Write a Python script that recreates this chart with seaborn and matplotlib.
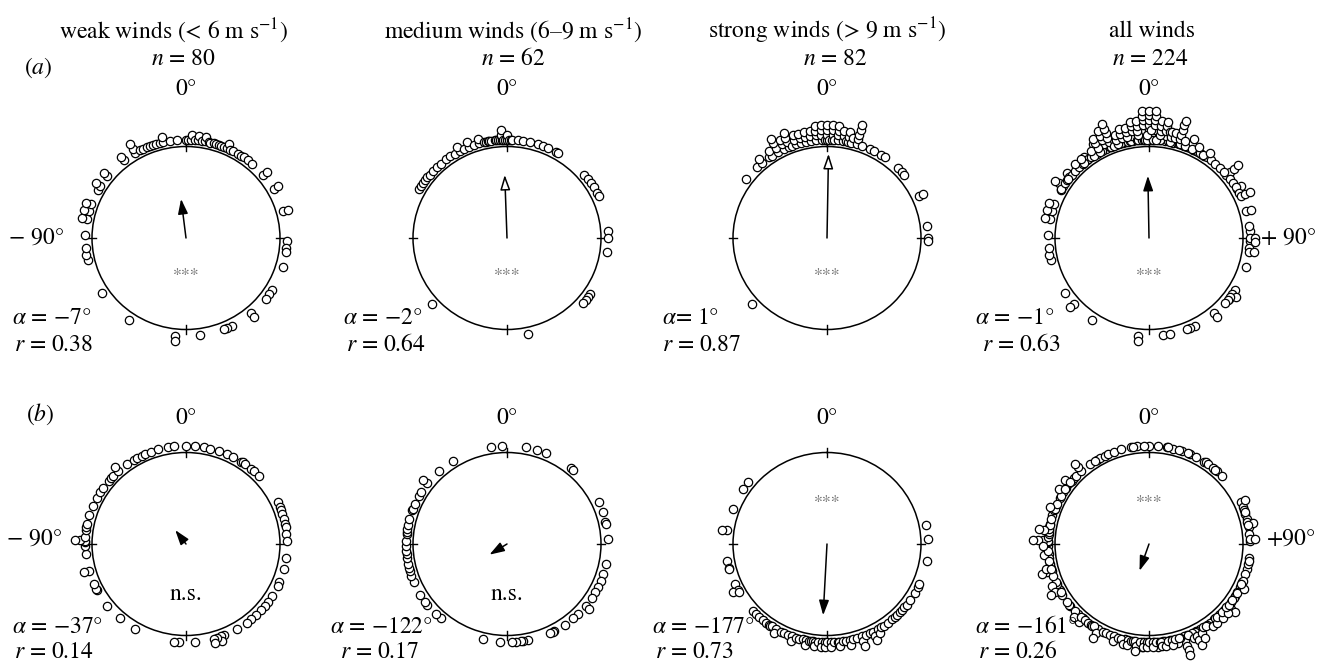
import numpy as np
import pandas as pd
import matplotlib
matplotlib.use("Agg")
import matplotlib.pyplot as plt
import seaborn as sns

# ---------------------------------------------------------------- data
titles = ["weak winds (< 6 m s$^{-1}$)", "medium winds (6–9 m s$^{-1}$)",
          "strong winds (> 9 m s$^{-1}$)", "all winds"]
sample_sizes = [80, 62, 82, 224]

# individual headings in degrees (clockwise from 0°), row (a)
a_weak = [-174, -174, -146, -124, -103, -100, -96, -88, -79, -79, -74, -74, -70, -70,
          -61, -58, -58, -51, -51, -38, -38, -30, -30, -30, -27, -25, -23, -21, -19,
          -17, -15, -13, -13, -9, -5, 0, 1, 3, 3, 5, 7, 7, 9, 11, 11, 13, 14, 16, 17,
          19, 20, 22, 24, 24, 26, 28, 31, 33, 35, 38, 41, 50, 50, 60, 60, 74, 74, 92,
          96, 98, 107, 122, 125, 128, 140, 140, 153, 156, 158, 172]
a_medium = [-132, -60, -58, -56, -54, -52, -50, -47, -44, -41,
            -37, -34, -31, -28, -28, -25, -22, -22, -19, -16, -16, -13, -12, -11, -10, -9,
            -7, -6, -5, -4, -3, -3, -3, -2, -1, 0, 0, 1, 2, 3,
            6, 9, 13, 18, 21, 24, 29, 30,
            50, 53, 56, 59, 63, 65, 86, 90, 98, 125, 127, 129, 131, 168]
a_strong = [-132, -53, -44, -40, -40, -35,
            -33, -33, -29, -29, -29, -29, -25, -25, -25, -22, -22, -22, -22, -20,
            -18, -18, -18, -15, -15, -15, -12, -12, -12, -9, -9, -9,
            -6, -6, -6, -6, -3, -3, -3, -3, -1, 0, 0, 0, 0, 1,
            3, 3, 3, 3, 4, 6, 6, 6, 6, 9, 9, 9, 11, 12, 12, 12, 14, 14,
            17, 17, 17, 17, 17, 20, 25, 28, 32, 35, 45, 48, 50, 65, 65, 83, 90, 92]

# row (b)
b_weak = [-176, -173, -150, -139, -129, -118, -117, -114, -106, -106,
          -96, -91, -89, -88, -88, -88, -86, -82, -80, -78,
          -73, -67, -62, -58, -55, -50, -48, -46, -42, -42,
          -36, -31, -29, -26, -24, -20, -16, -10, -7,
          0, 5, 10, 14, 19, 24, 28, 33, 34, 36, 40, 42, 46,
          65, 68, 70, 72, 75, 78, 80, 84, 88, 98, 105, 113, 115,
          122, 126, 129, 132, 136, 140, 143, 150, 158, 160, 160, 162, 164, 164, 175]
b_medium = [-176, -166, -139, -135, -128, -126, -121, -113, -109, -106,
            -104, -102, -98, -96, -94, -91, -88, -84, -83, -81,
            -79, -75, -70, -69, -66, -61, -58, -52, -52, -42,
            -32, -9, -3, 11, 17, 23, 39, 41, 65, 71,
            77, 78, 87, 102, 108, 112, 116, 119, 123, 129,
            129, 135, 139, 145, 152, 153, 155, 168, 171, 172, 175, 177]
b_strong = [-51, -56, -69, -82, -82, -100, -104, -105, -114, -118, -118, -119,
            -133, -135, -138, -141, -143, -145, -146, -147, -150, -150, -153, -155,
            -157, -160, -160, -162, -164, -166, -168, -168, -170, -171, -172, -173,
            -173, -175, -177, -177, -179, -179,
            180, 178, 178, 176, 174, 173, 173, 171, 169, 167, 167, 165, 163, 160,
            160, 160, 157, 155, 153, 153, 153, 150, 150, 148,
            146, 143, 140, 138, 136, 134, 132, 130, 128, 125,
            120, 116, 114, 100, 87, 79]

# mean vectors (direction alpha in degrees, length r) and Rayleigh results
a_alpha = [-7, -2, 1, -1]
a_r = [0.38, 0.64, 0.87, 0.63]
b_alpha = [-37, -122, -177, -161]
b_r = [0.14, 0.17, 0.73, 0.26]
a_sig = ["***", "***", "***", "***"]
b_sig = ["n.s.", "n.s.", "***", "***"]

a_sets = [a_weak, a_medium, a_strong, a_weak + a_medium + a_strong]
b_sets = [b_weak, b_medium, b_strong, b_weak + b_medium + b_strong]

# ---------------------------------------------------------------- style
plt.rcParams["font.family"] = ["STIXGeneral", "DejaVu Serif"]
plt.rcParams["mathtext.fontset"] = "stix"
FS = 17

W, H = 1318, 662
fig = plt.figure(figsize=(W / 100, H / 100), dpi=100)
fig.patch.set_facecolor("white")

col_cx = [186, 507, 827, 1149]
row_cy = [238, 544]
RX, RY = 94, 91.5
FIRST, STEP = 0.075, 0.053
HEAD_OVERSHOOT = 0.05   # arrow head reaches a little past the vector end


def fx(px):
    return px / W


def fy(py):
    return 1 - py / H


def panel(ax, angles, alpha, r, open_head, sig, sig_theta, sig_r, sig_kw):
    df = pd.DataFrame({"deg": angles})
    df["layer"] = df.groupby("deg").cumcount()
    df["theta"] = np.deg2rad(df["deg"])
    df["rad"] = 1.0 + FIRST + STEP * df["layer"]
    ax.set_theta_zero_location("N")
    ax.set_theta_direction(-1)
    sns.scatterplot(data=df, x="theta", y="rad", ax=ax, s=36, color="white",
                    edgecolor="black", linewidth=0.9, clip_on=False, zorder=3,
                    legend=False)
    ax.set_ylim(0, 1)
    ax.set_xlabel("")
    ax.set_ylabel("")
    ax.set_yticks([])
    ax.set_xticks([])
    ax.grid(False)
    ax.spines["polar"].set_linewidth(1.1)
    ax.set_aspect("auto")
    # short marks crossing the circle at the four cardinal directions
    for t in np.deg2rad([0, 90, 180, 270]):
        ax.plot([t, t], [0.955, 1.045], color="black", lw=1.0, clip_on=False,
                zorder=2)
    ax.annotate("", xy=(np.deg2rad(alpha), r + HEAD_OVERSHOOT), xytext=(0, 0),
                arrowprops=dict(arrowstyle="-|>,head_length=0.9,head_width=0.3",
                                fc="white" if open_head else "black", ec="black",
                                lw=1.1, shrinkA=0, shrinkB=0, mutation_scale=10))
    ax.text(sig_theta, sig_r, sig, ha="center", va="center", **sig_kw)


star_kw = dict(fontsize=13, color="#707070")
ns_kw = dict(fontsize=FS, color="black")

a_open = [False, True, True, False]
for i in range(4):
    for row in range(2):
        cx, cy = col_cx[i], row_cy[row]
        ax = fig.add_axes([fx(cx - RX), fy(cy + RY), 2 * RX / W, 2 * RY / H],
                          projection="polar")
        if row == 0:
            panel(ax, a_sets[i], a_alpha[i], a_r[i], a_open[i], a_sig[i],
                  np.pi, 0.42, star_kw)
        else:
            if b_sig[i] == "n.s.":
                panel(ax, b_sets[i], b_alpha[i], b_r[i], False, b_sig[i],
                      np.pi, 0.55, ns_kw)
            else:
                panel(ax, b_sets[i], b_alpha[i], b_r[i], False, b_sig[i],
                      0, 0.45, star_kw)

# ---------------------------------------------------------------- labels
title_x = [174, 513, 827, 1152]
n_x = [183, 513, 835, 1150]
for i in range(4):
    fig.text(fx(title_x[i]), fy(31), titles[i], ha="center", va="center", fontsize=FS)
    fig.text(fx(n_x[i]), fy(59), f"$n$ = {sample_sizes[i]}", ha="center",
             va="center", fontsize=FS)
    fig.text(fx(col_cx[i]), fy(89), "0°", ha="center", va="center", fontsize=FS)
    fig.text(fx(col_cx[i]), fy(418), "0°", ha="center", va="center", fontsize=FS)

fig.text(fx(24), fy(68), "($a$)", ha="left", va="center", fontsize=FS)
fig.text(fx(26), fy(414), "($b$)", ha="left", va="center", fontsize=FS)

fig.text(fx(9), fy(238), "− 90°", ha="left", va="center", fontsize=FS)
fig.text(fx(7), fy(539), "− 90°", ha="left", va="center", fontsize=FS)
fig.text(fx(1316), fy(238), "+ 90°", ha="right", va="center", fontsize=FS)
fig.text(fx(1316), fy(539), "+90°", ha="right", va="center", fontsize=FS)

a_alpha_x = [12, 343, 662, 975]
a_r_x = [14, 346, 662, 982]
b_alpha_x = [12, 330, 652, 975]
b_r_x = [14, 340, 655, 978]
for i in range(4):
    sep = " " if i != 2 else ""
    fig.text(fx(a_alpha_x[i]), fy(318),
             f"$\\alpha${sep}= {'−' if a_alpha[i] < 0 else ''}{abs(a_alpha[i])}°",
             ha="left", va="center", fontsize=FS)
    fig.text(fx(a_r_x[i]), fy(345), f"$r$ = {a_r[i]:.2f}", ha="left", va="center",
             fontsize=FS)
    fig.text(fx(b_alpha_x[i]), fy(627),
             f"$\\alpha$ = {'−' if b_alpha[i] < 0 else ''}{abs(b_alpha[i])}°",
             ha="left", va="center", fontsize=FS)
    fig.text(fx(b_r_x[i]), fy(652), f"$r$ = {b_r[i]:.2f}", ha="left", va="center",
             fontsize=FS)

fig.savefig("out.png", dpi=100, facecolor="white")
